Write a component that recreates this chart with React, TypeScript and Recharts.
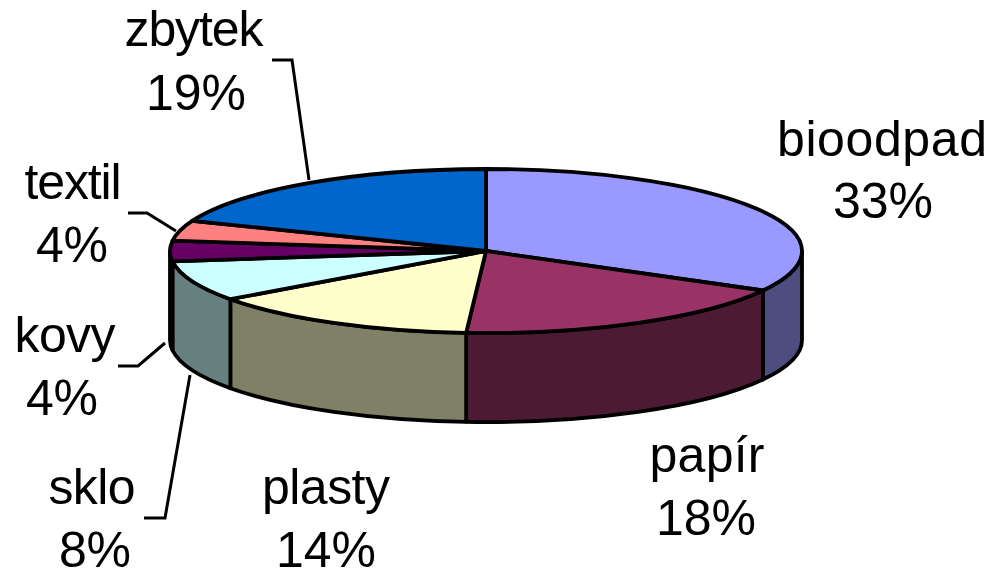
import React from "react";
import { PieChart, Pie, Cell } from "recharts";

const NAMES = ["bioodpad", "papír", "plasty", "sklo", "kovy", "textil", "zbytek"];
const VALUES = [33, 18, 14, 8, 4, 4, 19];
const TOPS = ["#9999FF", "#993366", "#FFFFCC", "#CCFFFF", "#660066", "#FF8080", "#0066CC"];
const SIDES = ["#4D4D80", "#4D1A33", "#808066", "#668080", "#330033", "#804040", "#003366"];

const data = NAMES.map((name, i) => ({ name, value: VALUES[i], side: SIDES[i] }));

/* The tilted disc: Recharts gives the angles, we flatten them onto an ellipse. */
const CX = 486;
const CY = 251;
const RX = 316;
const RY = 82;
const DEPTH = 89;
const FONT = "'Liberation Sans', Arial, sans-serif";

// label placement: centre x, baselines, text widths, leader polyline
const LABEL_POS = [
  { x: 882, y1: 156, y2: 218, x2: 883, w1: 210, w2: 100, leader: "" },
  { x: 707, y1: 472, y2: 535, x2: 706, w1: 115, w2: 100, leader: "" },
  { x: 326, y1: 504, y2: 567, x2: 326, w1: 128, w2: 100, leader: "" },
  { x: 92, y1: 504, y2: 567, x2: 95, w1: 87, w2: 72, leader: "M144 518 L165 518 L190 375" },
  { x: 65, y1: 352, y2: 415, x2: 62, w1: 101, w2: 72, leader: "M118 366 L138 366 L165 343" },
  { x: 73, y1: 199, y2: 262, x2: 72, w1: 97, w2: 72, leader: "M128 213 L147 213 L176 231" },
  { x: 194, y1: 46, y2: 110, x2: 196, w1: 139, w2: 100, leader: "M272 60 L292 60 L309 180" },
];

const pt = (deg: number, dy = 0) => {
  const a = (deg * Math.PI) / 180;
  return `${CX + RX * Math.sin(a)} ${CY - RY * Math.cos(a) + dy}`;
};

function Slice(props: any) {
  const { startAngle, endAngle, fill, payload } = props;
  // clockwise from twelve o'clock
  const t0 = 90 - startAngle;
  const t1 = 90 - endAngle;
  const large = t1 - t0 > 180 ? 1 : 0;
  const top = `M${CX} ${CY} L${pt(t0)} A${RX} ${RY} 0 ${large} 1 ${pt(t1)} Z`;

  // only the front half of the rim has a visible wall
  const w0 = Math.max(t0, 90);
  const w1 = Math.min(t1, 270);
  const wall =
    w0 < w1
      ? `M${pt(w0)} A${RX} ${RY} 0 0 1 ${pt(w1)} L${pt(w1, DEPTH)} A${RX} ${RY} 0 0 0 ${pt(w0, DEPTH)} Z`
      : null;

  return (
    <g>
      {wall && <path d={wall} fill={payload.side} stroke="#000" strokeWidth={3.8} strokeLinejoin="round" />}
      <path d={top} fill={fill} stroke="#000" strokeWidth={3.8} strokeLinejoin="round" />
    </g>
  );
}

function SliceLabel(props: any) {
  const { index } = props;
  const p = LABEL_POS[index];
  const textProps = { textAnchor: "middle" as const, fontFamily: FONT, fontSize: 50, fill: "#000" };
  return (
    <g>
      {p.leader && <path d={p.leader} fill="none" stroke="#000" strokeWidth={3} />}
      <text x={p.x} y={p.y1} textLength={p.w1} {...textProps}>{NAMES[index]}</text>
      <text x={p.x2} y={p.y2} textLength={p.w2} {...textProps}>{`${VALUES[index]}%`}</text>
    </g>
  );
}

export default function App() {
  return (
    <div style={{ position: "absolute", left: 0, top: 0, width: 990, height: 570, background: "#fff" }}>
      <PieChart width={990} height={570} margin={{ top: 0, right: 0, bottom: 0, left: 0 }}>
        <Pie
          data={data}
          dataKey="value"
          nameKey="name"
          cx={CX}
          cy={CY}
          outerRadius={RX}
          startAngle={90}
          endAngle={-270}
          shape={Slice}
          label={SliceLabel}
          labelLine={false}
          stroke="#000"
          isAnimationActive={false}
        >
          {data.map((d, i) => (
            <Cell key={d.name} fill={TOPS[i]} />
          ))}
        </Pie>
      </PieChart>
    </div>
  );
}
